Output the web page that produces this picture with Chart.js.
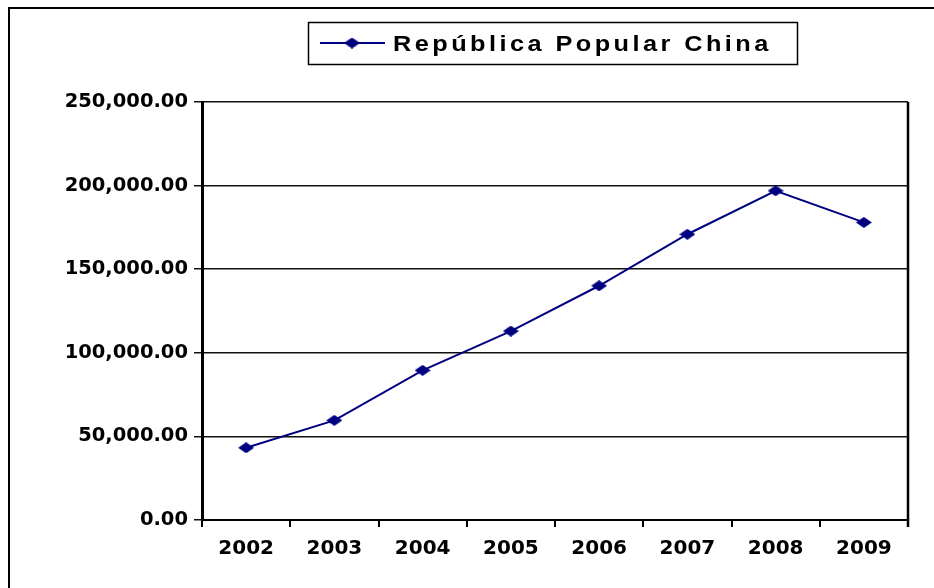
<!DOCTYPE html>
<html>
<head>
<meta charset="utf-8">
<script src="https://cdn.jsdelivr.net/npm/chart.js@4.4.1/dist/chart.umd.min.js"></script>
<style>
  html, body { margin: 0; padding: 0; background: #fff; }
  #wrap { width: 934px; height: 588px; }
</style>
</head>
<body>
<div id="wrap"><canvas id="chinaChart" width="934" height="588"></canvas></div>
<script>
const years = ["2002", "2003", "2004", "2005", "2006", "2007", "2008", "2009"];
const chinaValues = [43200, 59600, 89500, 113000, 140100, 170900, 196900, 178000];
const seriesLabel = "República Popular China";
const yTicks = [0, 50000, 100000, 150000, 200000, 250000];

const navy = "#000080";
const font = "DejaVu Sans";

// flattened diamond marker like the original
function makeDiamond(w, h) {
  const c = document.createElement("canvas");
  c.width = w;
  c.height = h;
  const g = c.getContext("2d");
  g.fillStyle = navy;
  g.beginPath();
  g.moveTo(w / 2, 0);
  g.lineTo(w, h / 2);
  g.lineTo(w / 2, h);
  g.lineTo(0, h / 2);
  g.closePath();
  g.fill();
  return c;
}
const diamond = makeDiamond(16, 11);

const framePlugin = {
  id: "frame",
  afterDraw(chart) {
    const ctx = chart.ctx;
    const a = chart.chartArea;
    ctx.save();
    ctx.strokeStyle = "#000";
    // outer frame
    ctx.lineWidth = 2;
    ctx.beginPath();
    ctx.moveTo(9, 588);
    ctx.lineTo(9, 8);
    ctx.lineTo(934, 8);
    ctx.stroke();
    // right side of plot area
    ctx.lineWidth = 2.5;
    ctx.beginPath();
    ctx.moveTo(a.right, a.top);
    ctx.lineTo(a.right, a.bottom + 7);
    ctx.stroke();

    // legend box
    ctx.lineWidth = 1.5;
    ctx.strokeRect(308.5, 22.5, 489, 42);
    const ds = chart.data.datasets[0];
    ctx.strokeStyle = ds.borderColor;
    ctx.lineWidth = 2;
    ctx.beginPath();
    ctx.moveTo(320, 43);
    ctx.lineTo(385, 43);
    ctx.stroke();
    ctx.drawImage(diamond, 352 - 8, 43 - 5.5);
    ctx.fillStyle = "#000";
    ctx.font = "bold 22px 'Liberation Sans'";
    ctx.letterSpacing = "3px";
    ctx.textBaseline = "alphabetic";
    ctx.translate(393, 51);
    ctx.scale(1.15, 1);
    ctx.fillText(ds.label, 0, 0);
    ctx.restore();
  },
};

new Chart(document.getElementById("chinaChart"), {
  type: "line",
  data: {
    labels: years,
    datasets: [
      {
        label: seriesLabel,
        data: chinaValues,
        borderColor: navy,
        backgroundColor: navy,
        borderWidth: 2,
        pointStyle: diamond,
        tension: 0,
      },
    ],
  },
  options: {
    responsive: false,
    animation: false,
    layout: { padding: { top: 102, right: 26, left: 0, bottom: 0 } },
    plugins: {
      legend: { display: false },
      tooltip: { enabled: false },
    },
    scales: {
      x: {
        offset: true,
        afterFit(scale) {
          scale.height = 68;
        },
        grid: {
          offset: true,
          drawOnChartArea: false,
          drawTicks: true,
          tickLength: 7,
          color: "#000",
          lineWidth: 2,
        },
        border: { color: "#000", width: 2 },
        ticks: {
          color: "#000",
          padding: 10,
          font: { family: font, size: 20, weight: "bold" },
        },
      },
      y: {
        min: 0,
        max: 250000,
        afterFit(scale) {
          scale.width = 202;
        },
        afterBuildTicks(scale) {
          scale.ticks = yTicks.map((v) => ({ value: v }));
        },
        grid: {
          color: "#111",
          lineWidth: 1.5,
          tickLength: 8,
        },
        border: { color: "#000", width: 3 },
        ticks: {
          color: "#000",
          padding: 6,
          font: { family: font, size: 19.5, weight: "bold" },
          callback: (v) =>
            v.toLocaleString("en-US", {
              minimumFractionDigits: 2,
              maximumFractionDigits: 2,
            }),
        },
      },
    },
  },
  plugins: [framePlugin],
});
</script>
</body>
</html>
